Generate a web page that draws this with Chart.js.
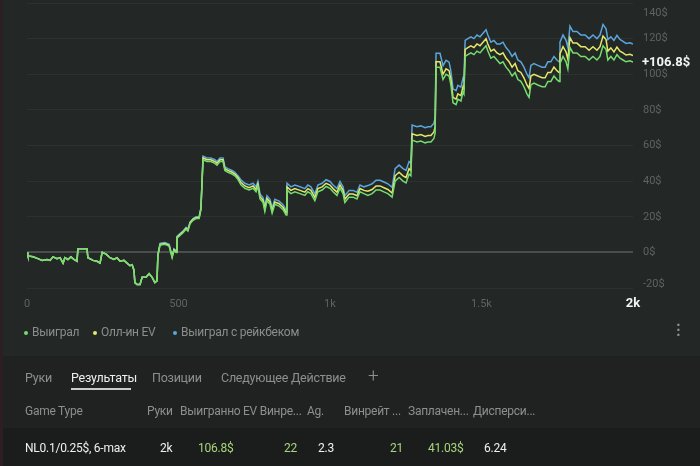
<!DOCTYPE html>
<html>
<head>
<meta charset="utf-8">
<script src="https://cdn.jsdelivr.net/npm/chart.js@4.4.1/dist/chart.umd.min.js"></script>
<style>
  body { margin: 0; width: 700px; height: 466px; overflow: hidden; background: #232725; font-family: Roboto, "Noto Sans", sans-serif; position: relative; }
  .strip { position: absolute; left: 0; top: 0; width: 3px; height: 466px; background: #2b1f21; }
  #wrap { position: absolute; left: 0; top: 0; width: 700px; height: 320px; }
  .t { position: absolute; white-space: nowrap; font-size: 12px; letter-spacing: -0.25px; line-height: 16px; }
  .legend { color: #8a8f8d; top: 324px; }
  .dot { position: absolute; width: 4px; height: 4px; border-radius: 50%; top: 331px; }
  .dots { position: absolute; left: 676px; top: 322px; color: #8a8f8d; font-size: 16px; font-weight: bold; line-height: 5px; }
  .panel { position: absolute; left: 3px; top: 356px; width: 697px; height: 110px; background: #1f2221; }
  .tab { color: #8b908e; top: 370px; font-size: 12.5px; }
  .act { color: #eef0ef; }
  .line { position: absolute; left: 71px; top: 388px; width: 60px; height: 2px; background: #c9cccb; }
  .plus { color: #8b908e; top: 366px; font-size: 19px; font-weight: 300; line-height: 20px; }
  .head { color: #8b908e; top: 403px; }
  .datarow { position: absolute; left: 3px; top: 428px; width: 697px; height: 38px; background: #1a1d1c; }
  .val { color: #eef0ef; top: 440px; }
  .g { color: #a7d67c; }
</style>
</head>
<body>
<div class="strip"></div>
<div id="wrap"><canvas id="grafico"></canvas></div>
<div class="dot" style="left:24px;background:#74dd6e"></div>
<div class="t legend" style="left:32px">Выиграл</div>
<div class="dot" style="left:93px;background:#e3e86b"></div>
<div class="t legend" style="left:101px">Олл-ин EV</div>
<div class="dot" style="left:173px;background:#5aa6dc"></div>
<div class="t legend" style="left:181px">Выиграл с рейкбеком</div>
<div class="dots">·<br>·<br>·</div>
<div class="panel"></div>
<div class="t tab" style="left:25px">Руки</div>
<div class="t tab act" style="left:71px">Результаты</div>
<div class="line"></div>
<div class="t tab" style="left:152px">Позиции</div>
<div class="t tab" style="left:221px">Следующее Действие</div>
<div class="t plus" style="left:368px">+</div>
<div class="t head" style="left:25px">Game Type</div>
<div class="t head" style="left:147px">Руки</div>
<div class="t head" style="left:180px">Выигранно</div>
<div class="t head" style="left:243px">EV Винре...</div>
<div class="t head" style="left:307px">Ag.</div>
<div class="t head" style="left:344px">Винрейт ...</div>
<div class="t head" style="left:408px">Заплачен...</div>
<div class="t head" style="left:473px">Дисперси...</div>
<div class="datarow"></div>
<div class="t val" style="left:25px">NL0.1/0.25$, 6-max</div>
<div class="t val" style="left:160px">2k</div>
<div class="t val g" style="left:198px">106.8$</div>
<div class="t val g" style="left:284px">22</div>
<div class="t val" style="left:318px">2.3</div>
<div class="t val g" style="left:390px">21</div>
<div class="t val g" style="left:428px">41.03$</div>
<div class="t val" style="left:484px">6.24</div>
<script>
// данные графика (руки / доллары)
const hands = [0,3,20,36,50,66,76,86,99,109,
  119,125,135,145,155,165,168,185,198,201,
  218,231,241,248,261,274,287,297,307,320,
  330,340,347,353,356,363,373,380,393,403,
  413,422,429,432,439,455,469,479,485,492,
  495,505,515,525,531,538,548,558,568,574,
  581,594,607,620,627,637,647,653,663,677,
  686,696,706,719,733,746,756,762,769,779,
  785,792,802,809,818,832,845,855,858,871,
  884,901,917,927,937,950,960,974,987,1000,
  1010,1023,1033,1043,1049,1063,1076,1089,1099,1112,
  1125,1139,1152,1165,1178,1191,1205,1215,1228,1241,
  1251,1261,1267,1271,1287,1300,1314,1323,1333,1343,
  1347,1350,1363,1373,1383,1393,1399,1406,1416,1422,
  1432,1439,1442,1446,1455,1465,1475,1485,1495,1505,
  1515,1521,1531,1541,1551,1561,1571,1581,1591,1601,
  1611,1620,1630,1640,1650,1657,1663,1673,1686,1700,
  1710,1719,1729,1739,1749,1756,1759,1769,1779,1785,
  1792,1802,1815,1828,1842,1855,1868,1881,1891,1901,
  1911,1917,1927,1937,1947,1957,1967,1977,1990,2000];

const vyigral = [0,-2,-2.5,-3.5,-4.5,-4,-4.5,-2.5,-3.5,-3,
  -6,-3,-4,-2.5,-4,-5,2,2,2,-3,
  -4.5,-5,-6,0,-1,-3,-4,-3,-5,-4.5,
  -6,-7.5,-7,-10,-17,-18,-18,-14,-14,-12,
  -14,-17,-16,-2,4,4.5,3.5,-3,1,0,
  8,9.5,11,13,12,16,18,19,19,24,
  52,51,51,50,49,51,51,46,45,44,
  43,41,38,36,35,36,34,37,30,28,
  23,29,27,22,27,26,24,21,35,33,
  34,33,32,34,33,29,34,35,37,36,
  34,32,36,33,28,31,31,30,34,33,
  32,33,35,35,34,33,31,40,42,40,
  39,44,43,63,62,62.5,61.5,62,62,64,
  67,104,104,97,100,99,94,84,83,86,
  85,90,89,110,111,112,111,113,112,114,
  116,113,109,110,108,106,107,104,102,99,
  101,97,96,93,89,87,94,95,94,93,
  93,96,96,99,97,96,106,110,107,103,
  115,112,112,110,110,108,110,108,110,116,
  114,108,110,108,111,109,108,107,107.5,106.8];

const allinEV = [0,-2,-2.5,-3.5,-4.5,-4,-4.5,-2.5,-3.5,-3,
  -6,-3,-4,-2.5,-4,-5,2,2,2,-3,
  -4.5,-5,-6,0,-1,-3,-4,-3,-5,-4.5,
  -6,-7.5,-7,-10,-17,-18,-18,-14,-14,-12,
  -14,-17,-16,-1.5,4.5,5,4,-2.5,1.5,0.5,
  8.5,10,11.5,13.5,12.5,16.5,18.5,19.5,19.5,24.5,
  53,52,52,51,50,52,52,47,46,45,
  44,42,39.3,37.3,36.3,37.3,35.3,38.3,31.3,29.3,
  24.3,30.3,28.3,23.3,28.3,27.3,25.3,22.3,36.8,34.8,
  35.8,34.8,33.8,35.8,34.8,30.8,35.8,36.8,38.8,37.8,
  35.8,33.8,37.8,34.8,29.8,32.8,32.8,31.8,35.8,34.8,
  34.3,35.3,37.3,37.3,36.3,35.3,33.3,43,45,43,
  42,47,46,66.6,65.6,66.1,65.1,65.6,65.6,67.6,
  70.6,107,107,100,103,102,97,87,86,89,
  88,93,92,114,115,116,115,117,116,118,
  120,117,113,114,112,111,112,109,107,104,
  106,102,101,98,94,92,99,100,99,98,
  98,101,101,104,102,101,111.5,115.5,112.5,108.5,
  120.5,117.5,117.5,115.5,115.5,113.5,115.5,113.5,115.5,121.5,
  119.5,113,114.8,112.5,115.3,113,112,110.8,111.2,110.5];

const sReykbekom = [0,-2,-2.5,-3.5,-4.5,-4,-4.5,-2.5,-3.5,-3,
  -6,-3,-4,-2.5,-4,-5,2,2,2,-3,
  -4.5,-5,-6,0,-1,-3,-4,-3,-5,-4.5,
  -6,-7.5,-7,-10,-17,-18,-18,-14,-14,-12,
  -14,-17,-16,-1,5,5.5,4.5,-2,2,1,
  9,10.5,12,14,13,17,19,20,20,25,
  54,53,53,52,51,53,53,48,47,46,
  45,43,40.8,38.8,37.8,38.8,36.8,39.8,32.8,30.8,
  25.8,31.8,29.8,24.8,29.8,28.8,26.8,23.8,38.8,36.8,
  37.8,36.8,35.8,37.8,36.8,32.8,37.8,38.8,40.8,39.8,
  37.8,35.8,39.8,36.8,31.8,34.8,34.8,33.8,37.8,36.8,
  37.5,38.5,40.5,40.5,39.5,38.5,36.5,47,49,47,
  46,51,50,71.5,70.5,71,70,70.5,70.5,72.5,
  75.5,111.8,111.8,104.8,107.8,106.8,101.8,91.8,90.8,93.8,
  92.8,97.8,96.8,119,120,121,120,122,121,123,
  125,122,118,119,117,117,118,115,113,110,
  112,108,107,104,100,98,105,106,105,104,
  104,107,107,110,108,107,118,122,119,115,
  127,124,124,122,122,120,122,120,122,128,
  125.5,119.5,121,119,121.8,119.5,118.5,117.3,117.7,117];

const seriesNames = ['Выиграл', 'Олл-ин EV', 'Выиграл с рейкбеком'];
const seriesColors = ['#74dd6e', '#e3e86b', '#5aa6dc'];

function puntos(valores) {
    return hands.map((h, i) => ({ x: h, y: valores[i] }));
}

function etiquetaManos(v) {
    if (v >= 1000) return (v / 1000) + 'k';
    return String(v);
}

// подписи осей рисуем сами, чтобы повторить оформление
const etiquetas = {
    id: 'etiquetas',
    afterDraw(chart) {
        const ctx = chart.ctx;
        const area = chart.chartArea;
        const ys = chart.scales.y;
        const xs = chart.scales.x;
        ctx.save();
        ctx.textBaseline = 'middle';
        ctx.textAlign = 'left';
        ctx.font = '11px Roboto, sans-serif';
        ctx.fillStyle = '#5e6361';
        ys.ticks.forEach(t => {
            let y = ys.getPixelForValue(t.value);
            y = Math.max(area.top + 10, Math.min(area.bottom - 4, y));
            ctx.fillText(t.value + '$', 643, y);
        });
        // текущий результат
        const ultimo = vyigral[vyigral.length - 1];
        ctx.font = 'bold 13px Roboto, sans-serif';
        ctx.fillStyle = '#f2f4f3';
        ctx.fillText('+' + ultimo + '$', 642, ys.getPixelForValue(ultimo) + 1);

        ctx.textAlign = 'center';
        xs.ticks.forEach((t, i) => {
            const x = xs.getPixelForValue(t.value);
            const esUltimo = i === xs.ticks.length - 1;
            ctx.font = esUltimo ? 'bold 13px Roboto, sans-serif' : '11px Roboto, sans-serif';
            ctx.fillStyle = esUltimo ? '#f2f4f3' : '#5e6361';
            ctx.fillText(etiquetaManos(t.value), x, 304);
        });
        ctx.restore();
    }
};

document.addEventListener('DOMContentLoaded', function() {
    const ctx = document.getElementById('grafico').getContext('2d');
    new Chart(ctx, {
        type: 'line',
        data: {
            datasets: [vyigral, allinEV, sReykbekom].map((vals, i) => ({
                label: seriesNames[i],
                data: puntos(vals),
                borderColor: seriesColors[i],
                borderWidth: 1.5,
                pointRadius: 0,
                tension: 0,
                fill: false
            }))
        },
        options: {
            responsive: true,
            maintainAspectRatio: false,
            animation: false,
            layout: { padding: { left: 27, right: 67, top: 3, bottom: 24 } },
            plugins: { legend: { display: false }, tooltip: { enabled: false } },
            scales: {
                x: {
                    type: 'linear',
                    min: 0,
                    max: 2000,
                    ticks: { display: false, stepSize: 500 },
                    grid: { display: false },
                    border: { display: false }
                },
                y: {
                    min: -20,
                    max: 140,
                    ticks: { display: false, stepSize: 20 },
                    grid: {
                        drawTicks: false,
                        color: c => c.tick && c.tick.value === 0 ? '#4a4f4d' : '#2d3230',
                        lineWidth: c => c.tick && c.tick.value === 0 ? 2 : 1
                    },
                    border: { display: false }
                }
            }
        },
        plugins: [etiquetas]
    });
});
</script>
</body>
</html>
